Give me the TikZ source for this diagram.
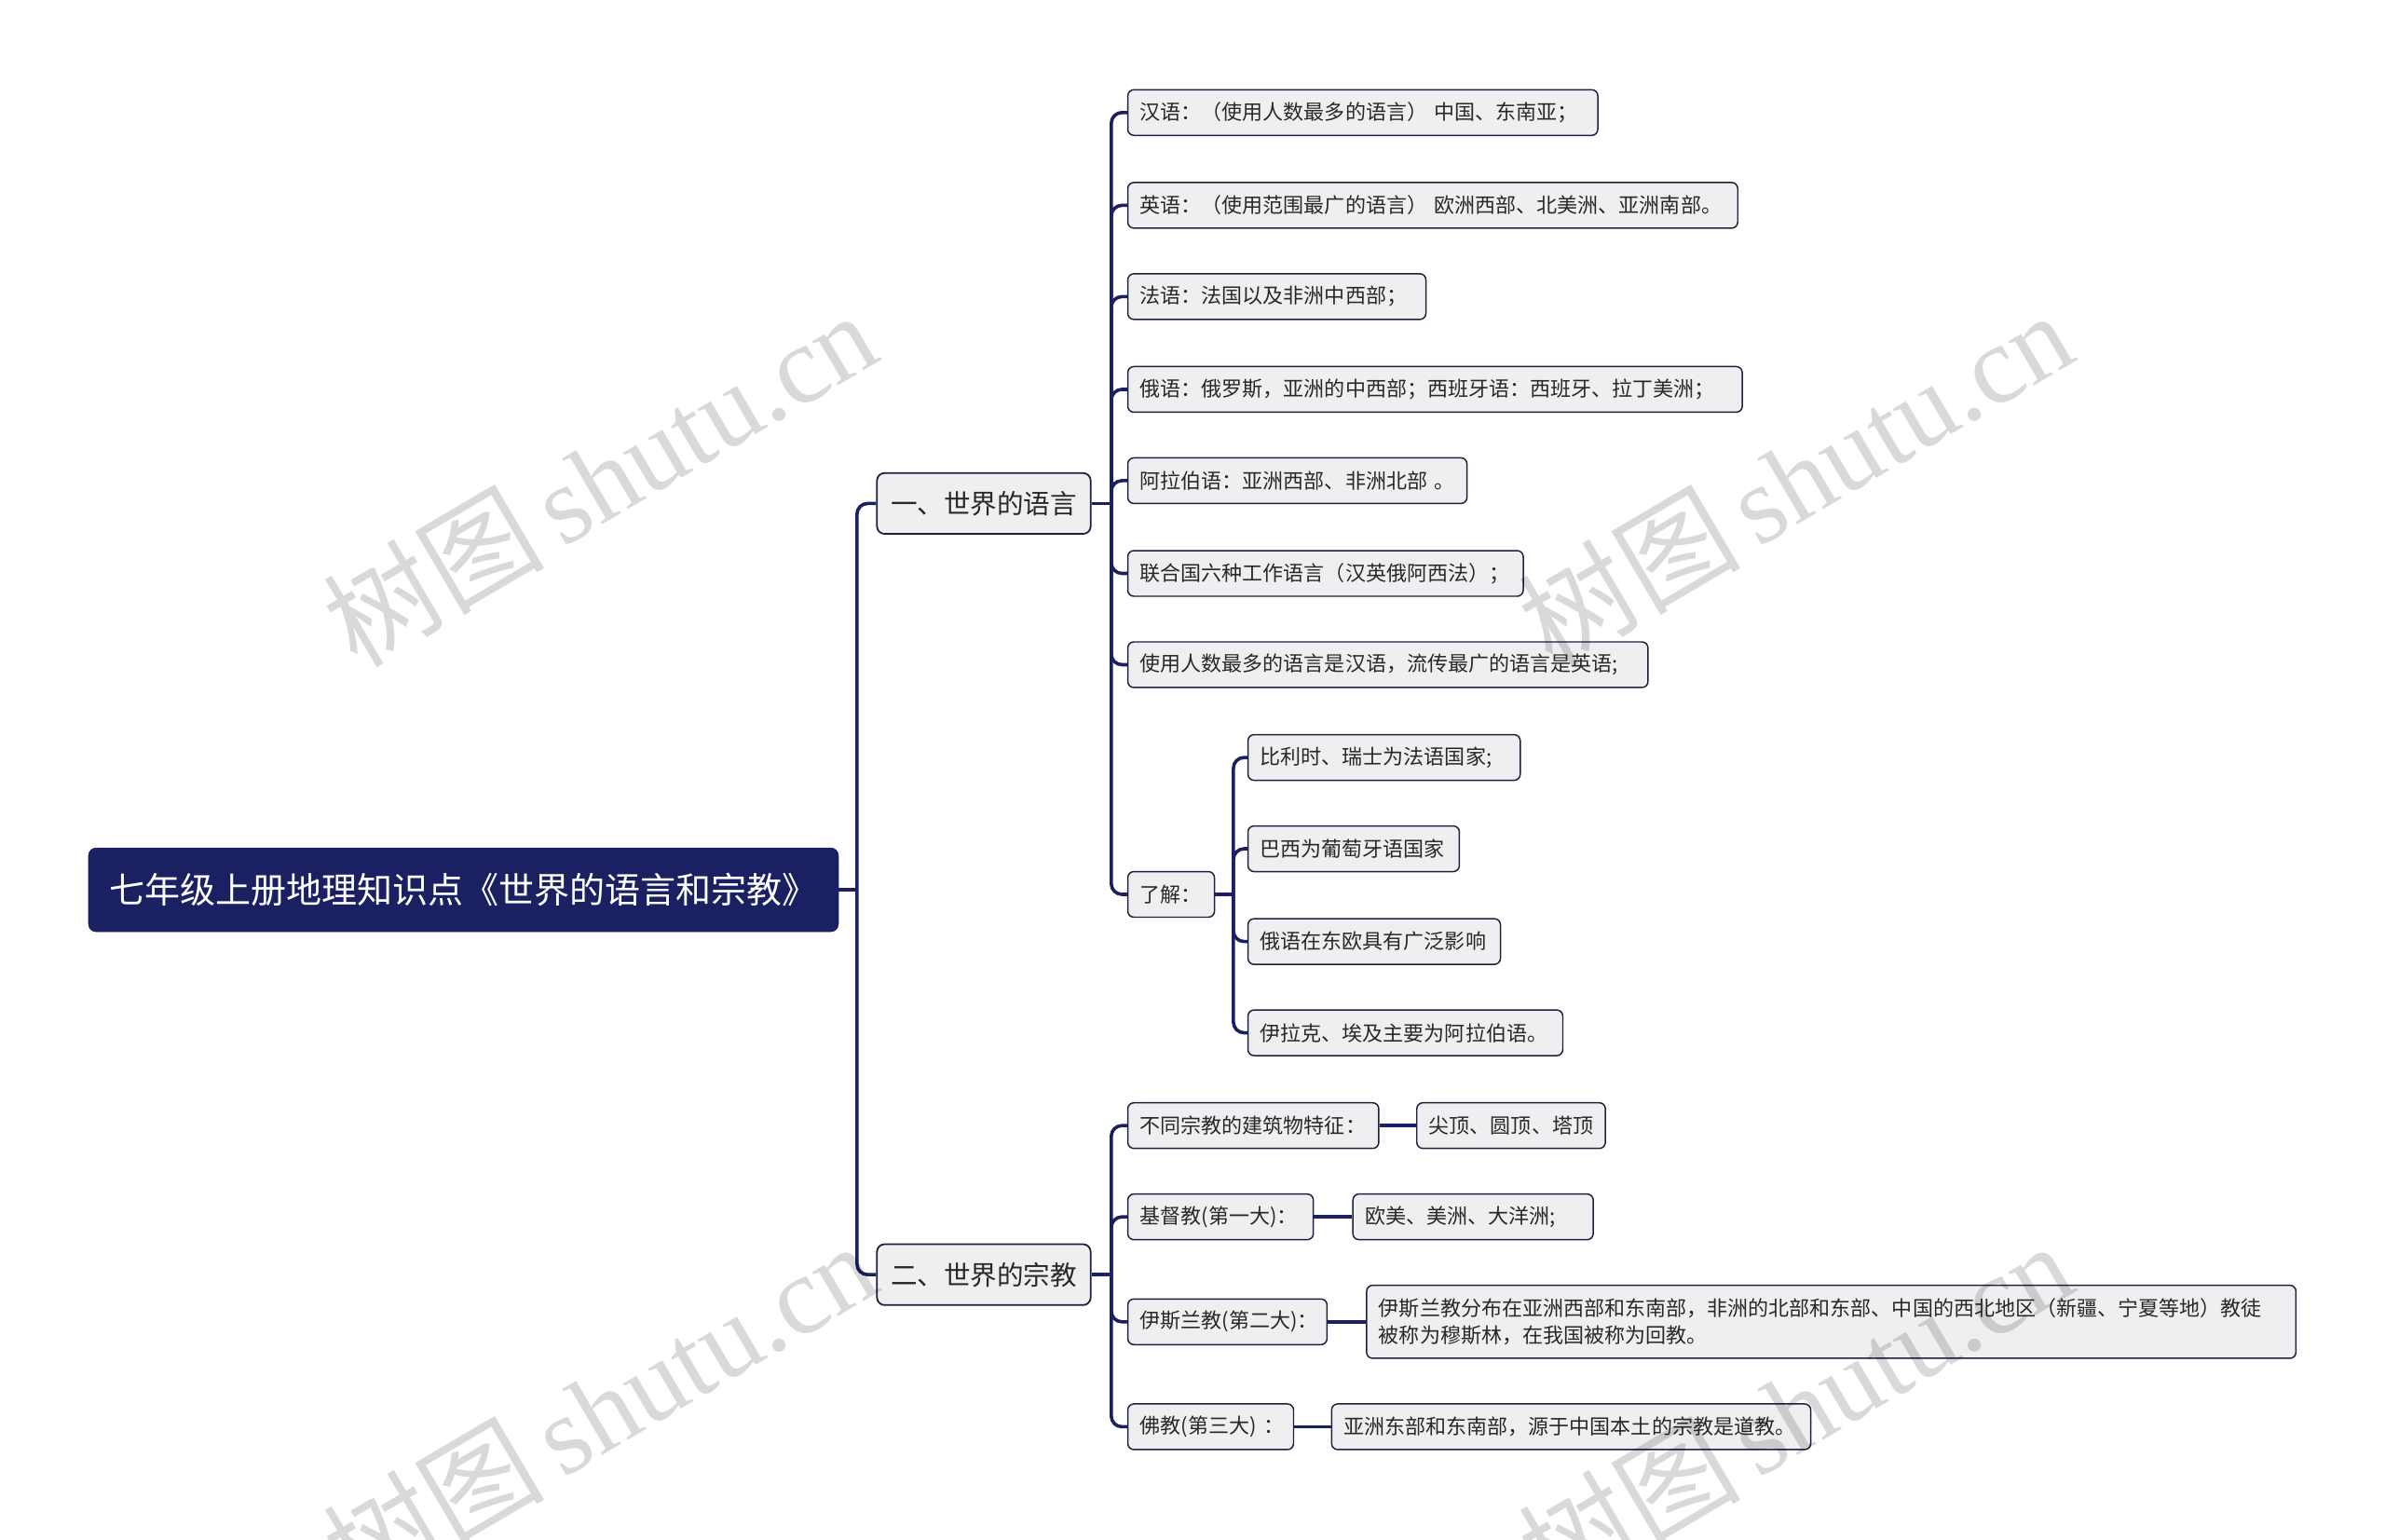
\documentclass[tikz,border=0pt]{standalone}
\usepackage{fontspec}
\newfontfamily\cjk{Noto Sans CJK SC}
\newfontfamily\wmlatin{Liberation Serif}
\definecolor{navy}{RGB}{27,32,98}
\definecolor{boxfill}{RGB}{239,239,241}
\definecolor{boxline}{RGB}{30,33,60}
\definecolor{txt}{RGB}{40,40,40}
\begin{document}
\begin{tikzpicture}[x=1pt,y=-1pt,
  rootbox/.style={anchor=west, fill=navy, draw=navy, rounded corners=5pt, text=white,
    font=\cjk\fontsize{23.3}{28}\selectfont, minimum height=55pt, minimum width=493pt,
    inner xsep=12pt, inner ysep=0pt},
  topic/.style={anchor=west, fill=boxfill, draw=boxline, line width=1.1pt, rounded corners=5pt,
    font=\cjk\fontsize{17.5}{21}\selectfont, minimum height=40pt, minimum width=140pt,
    inner xsep=9pt, inner ysep=0pt, text=txt},
  leaf/.style={anchor=west, fill=boxfill, draw=boxline, line width=0.9pt, rounded corners=4pt,
    font=\cjk\fontsize{13.5}{18}\selectfont, minimum height=30pt, inner xsep=8pt, inner ysep=0pt,
    align=left, text=txt, text width=#1},
  conn/.style={draw=navy, line width=2.2pt, rounded corners=7pt},
  stub/.style={draw=navy, line width=2.2pt},
  wm/.style={text=black, opacity=0.15, rotate=30.5, inner sep=0pt}
]
\fill[white] (0,0) rectangle (1568,1012);
\useasboundingbox (0,0) rectangle (1568,1012);

% nodes
\node[rootbox] (root) at (58,585) {七年级上册地理知识点《世界的语言和宗教》};
\node[topic] (lang) at (576,331) {一、世界的语言};
\node[topic] (reli) at (576,838) {二、世界的宗教};

\node[leaf=293pt] (a1) at (741,74) {汉语：（使用人数最多的语言）~中国、东南亚；};
\node[leaf=385pt] (a2) at (741,135) {英语：（使用范围最广的语言）~欧洲西部、北美洲、亚洲南部。};
\node[leaf=180pt] (a3) at (741,195) {法语：法国以及非洲中西部；};
\node[leaf=388pt] (a4) at (741,256) {俄语：俄罗斯，亚洲的中西部；西班牙语：西班牙、拉丁美洲；};
\node[leaf=207pt] (a5) at (741,316) {阿拉伯语：亚洲西部、非洲北部~。};
\node[leaf=244pt] (a6) at (741,377) {联合国六种工作语言（汉英俄阿西法）；};
\node[leaf=326pt] (a7) at (741,437) {使用人数最多的语言是汉语，流传最广的语言是英语;};
\node[leaf=41pt] (a8) at (741,588) {了解：};

\node[leaf=163pt] (b1) at (820,498) {比利时、瑞士为法语国家;};
\node[leaf=123pt] (b2) at (820,558) {巴西为葡萄牙语国家};
\node[leaf=150pt] (b3) at (820,619) {俄语在东欧具有广泛影响};
\node[leaf=191pt] (b4) at (820,679) {伊拉克、埃及主要为阿拉伯语。};

\node[leaf=149pt] (r1) at (741,740) {不同宗教的建筑物特征：};
\node[leaf=108pt] (r1c) at (931,740) {尖顶、圆顶、塔顶};
\node[leaf=106pt] (r2) at (741,800) {基督教(第一大)：};
\node[leaf=142pt] (r2c) at (889,800) {欧美、美洲、大洋洲;};
\node[leaf=115pt] (r3) at (741,869) {伊斯兰教(第二大)：};
\node[leaf=595pt, minimum height=48pt] (r3c) at (898,869) {伊斯兰教分布在亚洲西部和东南部，非洲的北部和东部、中国的西北地区（新疆、宁夏等地）教徒\\被称为穆斯林，在我国被称为回教。};
\node[leaf=93pt] (r4) at (741,938) {佛教(第三大)~：};
\node[leaf=299pt] (r4c) at (875,938) {亚洲东部和东南部，源于中国本土的宗教是道教。};

% connectors
\draw[stub] (root.east) -- ++(12,0) coordinate (rs);
\foreach \c in {lang,reli} \draw[conn] (rs) |- (\c.west);

\draw[stub] (lang.east) -- ++(13,0) coordinate (ls);
\foreach \c in {a1,a2,a3,a4,a5,a6,a7,a8} \draw[conn] (ls) |- (\c.west);

\draw[stub] (a8.east) -- ++(12,0) coordinate (ks);
\foreach \c in {b1,b2,b3,b4} \draw[conn] (ks) |- (\c.west);

\draw[stub] (reli.east) -- ++(13,0) coordinate (gs);
\foreach \c in {r1,r2,r3,r4} \draw[conn] (gs) |- (\c.west);

\draw[stub] (r1.east) -- (r1c.west);
\draw[stub] (r2.east) -- (r2c.west);
\draw[stub] (r3.east) -- (r3c.west);
\draw[stub] (r4.east) -- (r4c.west);

% watermarks
\foreach \p [count=\i] in {(394,314),(1180,314),(394,926),(1180,926)}
  \node[wm] (wm\i) at \p {\fontsize{73}{80}\selectfont\cjk 树图\hspace{0.15em}\wmlatin shutu.cn};
\end{tikzpicture}
\end{document}
